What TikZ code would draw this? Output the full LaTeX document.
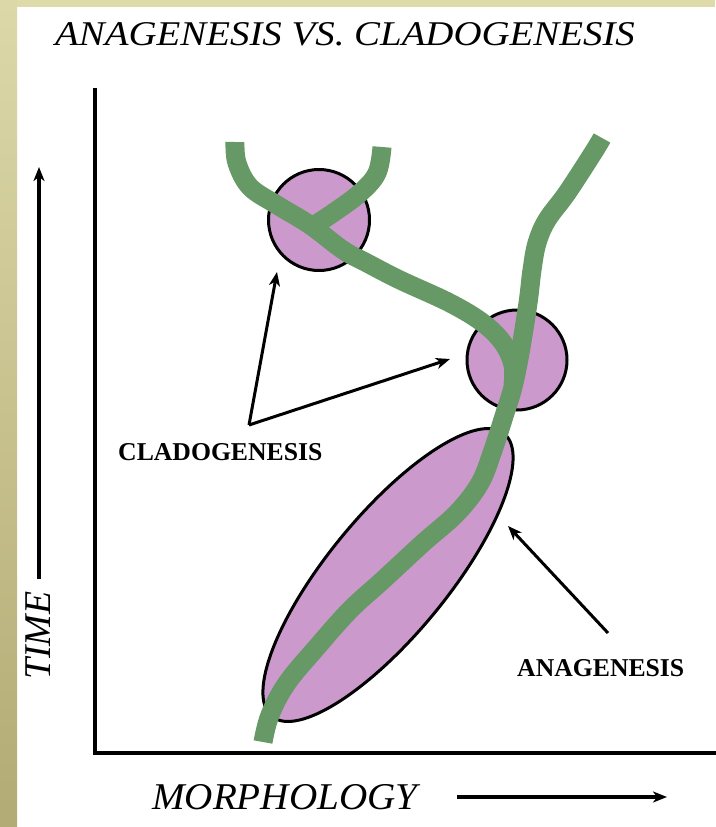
\documentclass[tikz,border=0pt]{standalone}
\usepackage{fontspec}
\usepackage{graphicx}
\setmainfont{Liberation Serif}
\usetikzlibrary{shapes.geometric,arrows.meta}
\definecolor{blob}{HTML}{CC99CC}
\definecolor{lineage}{HTML}{669966}
\definecolor{stripA}{HTML}{DCD8A8}
\definecolor{stripB}{HTML}{B3AB75}
\definecolor{topstrip}{HTML}{DEDAAA}
\tikzset{
  blobshape/.style={draw=black, line width=3pt, fill=blob, inner sep=0pt},
  branch/.style={draw=lineage, line width=19pt, line cap=butt, line join=round},
  pointer/.style={draw=black, line width=3pt, -{Stealth[length=14pt,width=11pt,inset=4pt]}},
  axisline/.style={draw=black, line width=3.5pt, line cap=rect},
  labelbold/.style={inner sep=0pt, anchor=base west, font=\fontsize{25.7}{30}\selectfont\bfseries},
  labelital/.style={inner sep=0pt, anchor=base west, font=\fontsize{37.8}{44}\selectfont\itshape}
}
\begin{document}
\begin{tikzpicture}[x=1pt,y=-1pt]
\useasboundingbox (0,0) rectangle (715,827);
\fill[white] (0,0) rectangle (715,827);
\fill[topstrip] (0,0) rectangle (715,7);
\shade[top color=stripA, bottom color=stripB] (0,0) rectangle (17,827);

% title
\node[inner sep=0pt, anchor=base west, font=\fontsize{34.7}{40}\selectfont\itshape] (title) at (55,45) {\scalebox{1.12}[1]{ANAGENESIS VS. CLADOGENESIS}};

% axes
\coordinate (ytop) at (95,90);
\coordinate (origin) at (95,753);
\coordinate (xend) at (715,753);
\draw[axisline] (ytop) -- (origin) -- (xend);

% axis labels
\node[labelital, rotate=90] (time) at (50,680) {TIME};
\coordinate (tbot) at (39,579);
\coordinate (ttop) at (39,167);
\draw[pointer, line width=3.5pt] (tbot) -- (ttop);

\node[labelital] (morph) at (152,809) {\scalebox{1.035}[1]{MORPHOLOGY}};
\coordinate (mleft) at (457,797);
\coordinate (mright) at (667,797);
\draw[pointer, line width=3.5pt] (mleft) -- (mright);

% blobs
\node[blobshape, circle, minimum size=101pt] (c1) at (319,220) {};
\node[blobshape, circle, minimum size=100pt] (c2) at (517,360) {};
\node[blobshape, ellipse, minimum width=366pt, minimum height=120pt, rotate=50.6] (el) at (388,575) {};

% lineages
\draw[branch] plot[smooth, tension=0.6] coordinates {(602,138) (593,153) (567,193) (547,220) (537,243) (532,270) (528,303) (520,353) (513,387) (505,413) (493,450) (480,483) (457,513) (423,543) (383,580) (350,610) (317,647) (287,683) (270,715) (263,742)};
\draw[branch] plot[smooth, tension=0.6] coordinates {(235,142) (237,163) (250,187) (277,205) (310,225) (343,250) (367,263) (400,280) (450,303) (483,323) (503,343) (513,365) (513,385)};
\draw[branch] plot[smooth, tension=0.6] coordinates {(382,147) (377,173) (360,193) (333,213) (310,228)};

% annotations
\node[labelbold] (clado) at (118,460) {CLADOGENESIS};
\node[labelbold] (ana) at (517,676) {ANAGENESIS};
\coordinate (apex) at (249,425);
\coordinate (tip1) at (277,272);
\coordinate (tip2) at (450,359);
\draw[pointer] (apex) -- (tip1);
\draw[pointer] (apex) -- (tip2);
\coordinate (atail) at (608,633);
\coordinate (atip) at (508,526);
\draw[pointer] (atail) -- (atip);
\end{tikzpicture}
\end{document}
